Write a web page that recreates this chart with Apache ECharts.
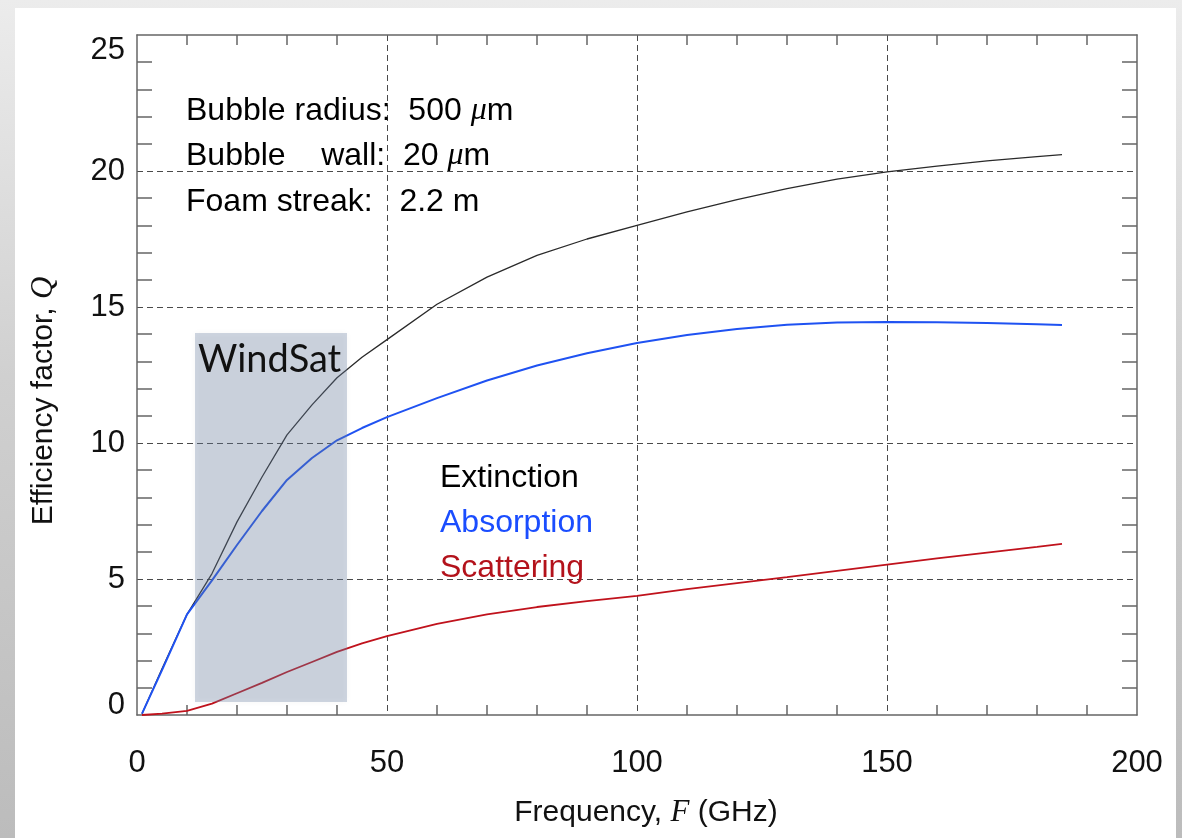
<!DOCTYPE html>
<html>
<head>
<meta charset="utf-8">
<script src="https://cdn.jsdelivr.net/npm/echarts@6/dist/echarts.min.js"></script>
<style>
  html, body { margin: 0; padding: 0; width: 1182px; height: 838px; overflow: hidden;
    background: linear-gradient(to bottom, #ececec 0%, #d0d0d0 45%, #bcbcbc 100%); }
  #card { position: absolute; left: 15px; top: 8px; width: 1161px; height: 830px; background: #fff; }
  #chart { position: absolute; left: 0; top: 0; width: 1182px; height: 838px; }
</style>
</head>
<body>
<div id="card"></div>
<div id="chart"></div>
<script>
// Frequency samples (GHz) shared by the three efficiency curves
const frequency = [1, 5, 10, 15, 20, 25, 30, 35, 40, 45, 50, 60, 70, 80, 90, 100,
                   110, 120, 130, 140, 150, 160, 170, 180, 185];

// Efficiency factors Q
const extinction = [0.05, 1.7, 3.7, 5.2, 7.1, 8.75, 10.3, 11.4, 12.4, 13.15, 13.8, 15.1,
                    16.1, 16.9, 17.5, 18.0, 18.5, 18.95, 19.35, 19.7, 19.97, 20.18, 20.37, 20.53, 20.6];
const absorption = [0.05, 1.65, 3.7, 4.95, 6.25, 7.5, 8.64, 9.45, 10.1, 10.55, 10.95, 11.65,
                    12.3, 12.85, 13.3, 13.68, 13.97, 14.19, 14.35, 14.43, 14.45, 14.44, 14.41, 14.37, 14.34];
const scattering = [0.0, 0.05, 0.15, 0.42, 0.8, 1.18, 1.58, 1.95, 2.32, 2.63, 2.9, 3.35,
                    3.7, 3.97, 4.19, 4.38, 4.63, 4.85, 5.07, 5.3, 5.53, 5.76, 5.97, 6.18, 6.29];

// WindSat band: frequency range (GHz) and shaded Q range
const windsatFreq = [11.6, 42];
const windsatQ = [0.48, 14.04];

const seriesNames = ['Extinction', 'Absorption', 'Scattering'];
const seriesColors = ['#2a2a2a', '#1f52f2', '#c0121c'];
const legendColors = ['#000000', '#1a4dff', '#b3121b'];

const SANS = '"Liberation Sans", Arial, Helvetica, sans-serif';
const SERIF = '"Liberation Serif", "Times New Roman", serif';
const AXIS_GREY = '#666';
const GRID_DASH = { color: '#4a4a4a', width: 1, type: [6, 4] };

const pairs = vals => frequency.map((f, i) => [f, vals[i]]);

const frameAxis = (extra) => Object.assign({
  type: 'value',
  axisLine: { show: true, onZero: false, lineStyle: { color: AXIS_GREY, width: 1.5 } },
  axisTick: { show: false, inside: true },
  minorTick: { show: true, splitNumber: 5, lineStyle: { color: AXIS_GREY, width: 1.5 } },
  splitLine: { show: false },
  axisLabel: { show: false }
}, extra);

const chart = echarts.init(document.getElementById('chart'), null, { renderer: 'canvas' });

chart.setOption({
  animation: false,
  textStyle: { fontFamily: SANS },
  grid: { left: 137, right: 45, top: 35, bottom: 123, containLabel: false },
  xAxis: [
    frameAxis({
      position: 'bottom', min: 0, max: 200, interval: 50,
      minorTick: { show: true, splitNumber: 5, length: 10, lineStyle: { color: AXIS_GREY, width: 1.5 } },
      splitLine: { show: true, showMinLine: false, showMaxLine: false, lineStyle: GRID_DASH },
      axisLabel: { show: true, margin: 33, fontSize: 31, color: '#111', fontFamily: SANS }
    }),
    frameAxis({
      position: 'top', min: 0, max: 200, interval: 50,
      minorTick: { show: true, splitNumber: 5, length: 10, lineStyle: { color: AXIS_GREY, width: 1.5 } }
    })
  ],
  yAxis: [
    frameAxis({
      position: 'left', min: 0, max: 25, interval: 5,
      minorTick: { show: true, splitNumber: 5, length: 15, lineStyle: { color: AXIS_GREY, width: 1.5 } },
      splitLine: { show: true, showMinLine: false, showMaxLine: false, lineStyle: GRID_DASH },
      axisLabel: {
        show: true, margin: 12, fontSize: 31, color: '#111', fontFamily: SANS,
        formatter: v => v === 0 ? '{lo|0}' : (v === 25 ? '{hi|25}' : String(v)),
        rich: {
          lo: { fontSize: 31, color: '#111', fontFamily: SANS, padding: [0, 0, 20, 0] },
          hi: { fontSize: 31, color: '#111', fontFamily: SANS, padding: [30, 0, 0, 0] }
        }
      }
    }),
    frameAxis({
      position: 'right', min: 0, max: 25, interval: 5,
      minorTick: { show: true, splitNumber: 5, length: 15, lineStyle: { color: AXIS_GREY, width: 1.5 } }
    })
  ],
  legend: {
    orient: 'vertical', left: 430, top: 451,
    icon: 'none', itemWidth: 0, itemHeight: 0, itemGap: 0,
    selectedMode: false,
    textStyle: { fontSize: 32, lineHeight: 45, fontFamily: SANS },
    data: seriesNames.map((n, i) => ({ name: n, textStyle: { color: legendColors[i] } }))
  },
  series: [
    {
      name: seriesNames[0], type: 'line', data: pairs(extinction), showSymbol: false, z: 3,
      lineStyle: { color: seriesColors[0], width: 1.3 }, itemStyle: { color: seriesColors[0] }
    },
    {
      name: seriesNames[1], type: 'line', data: pairs(absorption), showSymbol: false, z: 3,
      lineStyle: { color: seriesColors[1], width: 2 }, itemStyle: { color: seriesColors[1] }
    },
    {
      name: seriesNames[2], type: 'line', data: pairs(scattering), showSymbol: false, z: 3,
      lineStyle: { color: seriesColors[2], width: 1.8 }, itemStyle: { color: seriesColors[2] }
    },
    {
      name: 'WindSat', type: 'line', data: [], z: 10,
      markArea: {
        silent: true, z: 10,
        itemStyle: { color: 'rgba(110,132,164,0.33)', shadowBlur: 6, shadowColor: 'rgba(0,0,0,0.12)' },
        label: {
          show: true, position: 'insideTopLeft', distance: 0, offset: [3, 8],
          fontFamily: 'Lato, "Open Sans", sans-serif', fontSize: 38, color: '#111'
        },
        data: [[
          { name: 'WindSat', coord: [windsatFreq[0], windsatQ[1]] },
          { coord: [windsatFreq[1], windsatQ[0]] }
        ]]
      }
    }
  ],
  graphic: [
    {
      type: 'text', x: 186, y: 111, z: 20,
      style: {
        text: 'Bubble radius:  500 {mu|μ}m', fill: '#000', fontSize: 32, fontFamily: SANS,
        verticalAlign: 'middle', align: 'left',
        rich: { mu: { fontSize: 32, fontFamily: SERIF, fontStyle: 'italic', fill: '#000' } }
      }
    },
    {
      type: 'text', x: 186, y: 156, z: 20,
      style: {
        text: 'Bubble    wall:  20 {mu|μ}m', fill: '#000', fontSize: 32, fontFamily: SANS,
        verticalAlign: 'middle', align: 'left',
        rich: { mu: { fontSize: 32, fontFamily: SERIF, fontStyle: 'italic', fill: '#000' } }
      }
    },
    {
      type: 'text', x: 186, y: 202, z: 20,
      style: {
        text: 'Foam streak:   2.2 m', fill: '#000', fontSize: 32, fontFamily: SANS,
        verticalAlign: 'middle', align: 'left'
      }
    },
    {
      type: 'text', x: 646, y: 813, z: 20,
      style: {
        text: 'Frequency, {it|F} (GHz)', fill: '#111', fontSize: 30, fontFamily: SANS,
        verticalAlign: 'middle', align: 'center',
        rich: { it: { fontSize: 31, fontFamily: SERIF, fontStyle: 'italic', fill: '#111' } }
      }
    },
    {
      type: 'text', x: 44, y: 401, z: 20, rotation: Math.PI / 2,
      style: {
        text: 'Efficiency factor, {it|Q}', fill: '#111', fontSize: 30, fontFamily: SANS,
        verticalAlign: 'middle', align: 'center',
        rich: { it: { fontSize: 31, fontFamily: SERIF, fontStyle: 'italic', fill: '#111' } }
      }
    }
  ]
});
</script>
</body>
</html>
